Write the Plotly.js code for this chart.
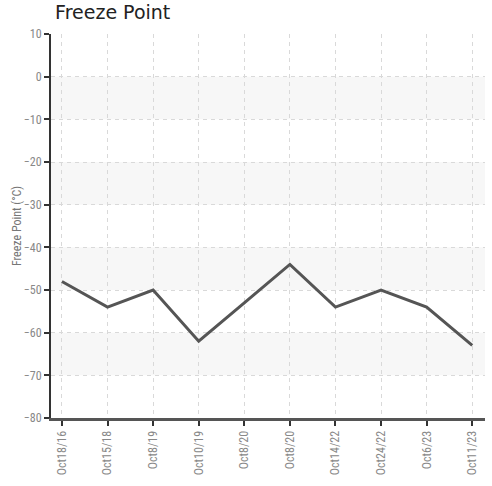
<!DOCTYPE html>
<html><head><meta charset="utf-8">
<script src="https://cdn.plot.ly/plotly-3.0.1.min.js"></script>
<style>body{margin:0;padding:0;}#chart{width:492px;height:486px;}</style>
</head><body><div id="chart"></div>
<script>
const categories = ["Oct18/16","Oct15/18","Oct8/19","Oct10/19","Oct8/20","Oct8/20","Oct14/22","Oct24/22","Oct6/23","Oct11/23"];
const freezePoint = [-48,-54,-50,-62,-53,-44,-54,-50,-54,-63];
const yTicks = [10,0,-10,-20,-30,-40,-50,-60,-70,-80];

const xIdx = categories.map((c,i)=>i);
const bands = [];
for (let v = 0; v > -80; v -= 20) {
  bands.push({type:'rect', xref:'paper', yref:'y', x0:0, x1:1, y0:v-10, y1:v,
    fillcolor:'#f7f7f7', line:{width:0}, layer:'below'});
}
const fam = '"Roboto Condensed", "Liberation Sans Narrow", Roboto, sans-serif';
const tickFont = {family:fam, size:12, color:'#888'};
Plotly.newPlot('chart', [{
  x: xIdx, y: freezePoint, type:'scatter', mode:'lines',
  line:{color:'#555', width:3}, hoverinfo:'skip'
}], {
  width:492, height:486,
  margin:{l:51, r:7, t:34, b:68},
  paper_bgcolor:'#fff', plot_bgcolor:'#fff',
  showlegend:false,
  title:{text:'Freeze Point', x:0.112, xanchor:'left', y:0.975, yanchor:'middle',
    font:{family:'DejaVu Sans, sans-serif', size:19, color:'#222'}},
  shapes: bands,
  xaxis:{
    range:[-0.24, 9.28], tickvals:xIdx, ticktext:categories, tickangle:-90,
    showgrid:true, gridcolor:'#d9d9d9', griddash:'4px,4px', gridwidth:1,
    ticks:'outside', ticklen:5, tickcolor:'#333', tickwidth:2,
    showline:true, linecolor:'#555', linewidth:3,
    tickfont:tickFont, zeroline:false, fixedrange:true
  },
  yaxis:{
    range:[-80, 10], tickvals:yTicks,
    showgrid:true, gridcolor:'#d9d9d9', griddash:'4px,4px', gridwidth:1,
    ticks:'outside', ticklen:5, tickcolor:'#333', tickwidth:2,
    showline:true, linecolor:'#333', linewidth:2,
    tickfont:tickFont, zeroline:false, fixedrange:true,
    title:{text:'Freeze Point (°C)', standoff:0,
      font:{family:fam, size:12, color:'#777'}}
  }
}, {displayModeBar:false, staticPlot:true});
</script></body></html>
